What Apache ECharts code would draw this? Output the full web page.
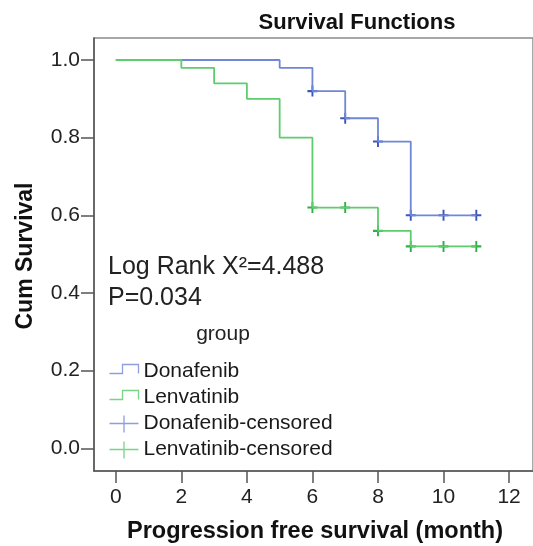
<!DOCTYPE html>
<html>
<head>
<meta charset="utf-8">
<script src="https://cdn.jsdelivr.net/npm/echarts@6/dist/echarts.min.js"></script>
<style>
  html, body { margin: 0; padding: 0; background: #fff; }
  #chart { width: 533px; height: 546px; }
</style>
</head>
<body>
<div id="chart"></div>
<script>
// Kaplan-Meier steps
const donaTime = [0, 5, 6, 7, 8, 9, 11]
const donaSurv = [1.0, 0.98, 0.92, 0.85, 0.79, 0.6, 0.6]
const lenvaTime = [0, 2, 3, 4, 5, 6, 8, 9, 11]
const lenvaSurv = [1.0, 0.98, 0.94, 0.9, 0.8, 0.62, 0.56, 0.52, 0.52]
// censored marks
const donaCensorTime = [6, 7, 8, 9, 10, 11]
const donaCensorSurv = [0.92, 0.85, 0.79, 0.6, 0.6, 0.6]
const lenvaCensorTime = [6, 7, 8, 9, 10, 11]
const lenvaCensorSurv = [0.62, 0.62, 0.56, 0.52, 0.52, 0.52]
// axes
const xTicks = [0, 2, 4, 6, 8, 10, 12]
const yTicks = [0, 0.2, 0.4, 0.6, 0.8, 1.0]

const zip = (a, b) => a.map((v, i) => [v, b[i]])

const FONT = 'Liberation Sans, Arial, sans-serif'
const stepIcon = 'path://M0,0 M0,20 M0,12 L13,12 L13,3 L29,3 L29,12'
const plusIcon = 'path://M0,0 M0,20 M0,10 L29,10 M14.5,2 L14.5,19'
const plusMark = 'path://M0,5 L10,5 M5,0 L5,10'

const chart = echarts.init(document.getElementById('chart'))
chart.setOption({
  backgroundColor: '#fff',
  animation: false,
  grid: {
    left: 94,
    right: -4,
    top: 38,
    bottom: 75,
    show: true,
    borderColor: '#8a8a8a',
    borderWidth: 1.5
  },
  xAxis: {
    type: 'value',
    min: -0.665,
    max: 12.73,
    axisLine: { show: true, onZero: false, lineStyle: { color: '#555', width: 1.5 } },
    axisTick: { show: true, length: 12, customValues: xTicks, lineStyle: { color: '#555', width: 1.5 } },
    axisLabel: { customValues: xTicks, margin: 16, fontSize: 21, fontFamily: FONT, color: '#222' },
    splitLine: { show: false }
  },
  yAxis: {
    type: 'value',
    min: -0.0585,
    max: 1.0567,
    axisLine: { show: true, onZero: false, lineStyle: { color: '#555', width: 1.5 } },
    axisTick: { show: true, length: 13, customValues: yTicks, lineStyle: { color: '#555', width: 1.5 } },
    axisLabel: {
      customValues: yTicks,
      margin: 14,
      fontSize: 21,
      fontFamily: FONT,
      color: '#222',
      formatter: v => v.toFixed(1)
    },
    splitLine: { show: false }
  },
  legend: {
    orient: 'vertical',
    left: 107,
    top: 359,
    padding: 0,
    itemWidth: 29,
    itemHeight: 20,
    itemGap: 1,
    selectedMode: false,
    textStyle: { fontSize: 21, fontFamily: FONT, color: '#1a1a1a' },
    data: [
      { name: 'Donafenib', icon: stepIcon, itemStyle: { color: 'none', borderColor: '#8d9fdf', borderWidth: 1.3 } },
      { name: 'Lenvatinib', icon: stepIcon, itemStyle: { color: 'none', borderColor: '#79d585', borderWidth: 1.3 } },
      { name: 'Donafenib-censored', icon: plusIcon, itemStyle: { color: 'none', borderColor: '#8d9fdf', borderWidth: 1.3 } },
      { name: 'Lenvatinib-censored', icon: plusIcon, itemStyle: { color: 'none', borderColor: '#79d585', borderWidth: 1.3 } }
    ]
  },
  graphic: [
    {
      type: 'text', x: 357, y: 23,
      style: { text: 'Survival Functions', font: 'bold 22px ' + FONT, fill: '#111', textAlign: 'center', textVerticalAlign: 'middle' }
    },
    {
      type: 'text', x: 108, y: 267,
      style: { text: 'Log Rank X²=4.488', font: '25px ' + FONT, fill: '#222', textAlign: 'left', textVerticalAlign: 'middle' }
    },
    {
      type: 'text', x: 108, y: 298,
      style: { text: 'P=0.034', font: '25px ' + FONT, fill: '#222', textAlign: 'left', textVerticalAlign: 'middle' }
    },
    {
      type: 'text', x: 223, y: 334,
      style: { text: 'group', font: '21px ' + FONT, fill: '#222', textAlign: 'center', textVerticalAlign: 'middle' }
    },
    {
      type: 'text', x: 26, y: 256, rotation: Math.PI / 2,
      style: { text: 'Cum Survival', font: 'bold 23px ' + FONT, fill: '#111', textAlign: 'center', textVerticalAlign: 'middle' }
    },
    {
      type: 'text', x: 315, y: 532,
      style: { text: 'Progression free survival (month)', font: 'bold 23.5px ' + FONT, fill: '#111', textAlign: 'center', textVerticalAlign: 'middle' }
    }
  ],
  series: [
    {
      name: 'Donafenib',
      type: 'line',
      step: 'end',
      symbol: 'none',
      itemStyle: { color: '#6f87d6' },
      lineStyle: { color: '#6f87d6', width: 1.8 },
      data: zip(donaTime, donaSurv)
    },
    {
      name: 'Lenvatinib',
      type: 'line',
      step: 'end',
      symbol: 'none',
      itemStyle: { color: '#5fcc6d' },
      lineStyle: { color: '#5fcc6d', width: 1.8 },
      data: zip(lenvaTime, lenvaSurv)
    },
    {
      name: 'Donafenib-censored',
      type: 'scatter',
      symbol: plusMark,
      symbolSize: [10, 11],
      itemStyle: { color: '#3c55b9', borderColor: '#3c55b9', borderWidth: 2, opacity: 1 },
      data: zip(donaCensorTime, donaCensorSurv)
    },
    {
      name: 'Lenvatinib-censored',
      type: 'scatter',
      symbol: plusMark,
      symbolSize: [10, 11],
      itemStyle: { color: '#2db147', borderColor: '#2db147', borderWidth: 2, opacity: 1 },
      data: zip(lenvaCensorTime, lenvaCensorSurv)
    }
  ]
})
</script>
</body>
</html>
